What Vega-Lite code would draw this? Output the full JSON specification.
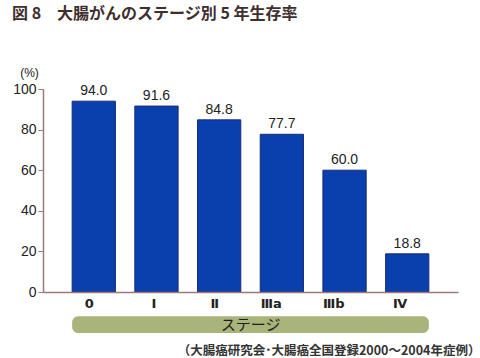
{
  "$schema": "https://vega.github.io/schema/vega-lite/v6.json",
  "autosize": {"type": "none"},
  "width": 415,
  "height": 203,
  "padding": {"left": 43, "top": 89, "right": 22, "bottom": 66},
  "background": "white",
  "title": {
    "text": "図 8　大腸がんのステージ別 5 年生存率",
    "anchor": "start",
    "frame": "group",
    "dx": -31,
    "offset": 44,
    "font": "Noto Sans CJK JP",
    "fontSize": 16,
    "fontWeight": "bold",
    "color": "#3e2e2e"
  },
  "config": {
    "view": {"stroke": null},
    "font": "Noto Sans CJK JP"
  },
  "layer": [
    {
      "data": {"values": [{"from": "0", "to": "Ⅳ", "lo": -11.9, "hi": -20.2}]},
      "mark": {"type": "rect", "color": "#a9b47a", "cornerRadius": 6, "clip": false},
      "encoding": {
        "x": {"field": "from", "type": "nominal", "bandPosition": 0},
        "x2": {"field": "to", "bandPosition": 1},
        "y": {"field": "lo", "type": "quantitative"},
        "y2": {"field": "hi"}
      }
    },
    {
      "data": {"values": [{"at": "Ⅲa", "pos": -16.3, "label": "ステージ"}]},
      "mark": {"type": "text", "fontSize": 15, "color": "#1e1e1e", "baseline": "middle", "align": "center", "dx": -9.5, "clip": false, "font": "Noto Sans CJK JP"},
      "encoding": {
        "x": {"field": "at", "type": "nominal", "bandPosition": 0},
        "y": {"field": "pos", "type": "quantitative"},
        "text": {"field": "label"}
      }
    },
    {
      "data": {"values": [
        {"stage": "0", "rate": 94.0},
        {"stage": "Ⅰ", "rate": 91.6},
        {"stage": "Ⅱ", "rate": 84.8},
        {"stage": "Ⅲa", "rate": 77.7},
        {"stage": "Ⅲb", "rate": 60.0},
        {"stage": "Ⅳ", "rate": 18.8}
      ]},
      "encoding": {
        "x": {
          "field": "stage",
          "type": "nominal",
          "sort": null,
          "scale": {"paddingInner": 0.31, "paddingOuter": 0.465},
          "axis": {
            "zindex": 1,
            "title": "（大腸癌研究会･大腸癌全国登録2000〜2004年症例）",
            "titleAnchor": "end",
            "titleAlign": "right",
            "titleX": 437,
            "titleY": 58,
            "titleBaseline": "middle",
            "titleFontSize": 12.5,
            "titleFontWeight": "bold",
            "titleColor": "#333333",
            "titleFont": "Noto Sans CJK JP",
            "labelAngle": 0,
            "labelFont": "DejaVu Sans",
            "labelFontSize": 13,
            "labelFontWeight": "bold",
            "labelColor": "#222222",
            "labelPadding": 5,
            "labelBaseline": "top",
            "ticks": false,
            "domainColor": "#9a7a7a",
            "domainWidth": 1.5
          }
        },
        "y": {
          "field": "rate",
          "type": "quantitative",
          "scale": {"domain": [0, 100], "nice": false},
          "axis": {
            "title": "(%)",
            "titleAngle": 0,
            "titleX": -14,
            "titleY": -17,
            "titleAlign": "center",
            "titleBaseline": "middle",
            "titleFontSize": 12,
            "titleFontWeight": "normal",
            "titleColor": "#222222",
            "titleFont": "Liberation Sans",
            "values": [0, 20, 40, 60, 80, 100],
            "grid": false,
            "labelFont": "Liberation Sans",
            "labelFontSize": 14,
            "labelColor": "#222222",
            "labelPadding": 2,
            "tickSize": 5,
            "tickColor": "#9a7a7a",
            "domainColor": "#9a7a7a",
            "domainWidth": 1.5
          }
        }
      },
      "layer": [
        {
          "mark": {"type": "bar", "color": "#0a3fae", "stroke": "#1b2a7a", "strokeWidth": 1}
        },
        {
          "mark": {"type": "text", "baseline": "bottom", "dy": -3, "fontSize": 14, "color": "#222222", "font": "Liberation Sans"},
          "encoding": {"text": {"field": "rate", "type": "quantitative", "format": ".1f"}}
        }
      ]
    }
  ]
}
